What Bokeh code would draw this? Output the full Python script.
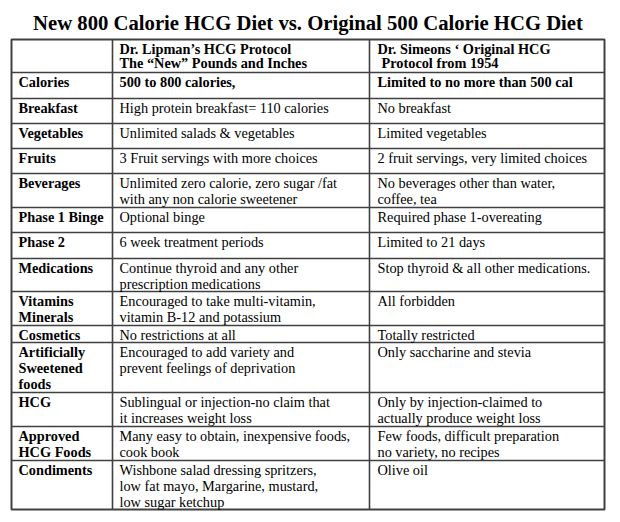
from bokeh.plotting import figure
from bokeh.models import Range1d, ColumnDataSource
from bokeh.core.properties import value
from bokeh.embed import file_html
from bokeh.resources import INLINE

# ---------------- data ----------------
title = "New 800 Calorie HCG Diet vs. Original 500 Calorie HCG Diet"

header_lipman = ["Dr. Lipman\u2019s HCG Protocol", "The \u201cNew\u201d Pounds and Inches"]
header_simeons = ["Dr. Simeons \u2018 Original HCG", "Protocol from 1954"]

row_labels = [
    ["Calories"],
    ["Breakfast"],
    ["Vegetables"],
    ["Fruits"],
    ["Beverages"],
    ["Phase 1 Binge"],
    ["Phase 2"],
    ["Medications"],
    ["Vitamins", "Minerals"],
    ["Cosmetics"],
    ["Artificially", "Sweetened", "foods"],
    ["HCG"],
    ["Approved", "HCG Foods"],
    ["Condiments"],
]

lipman = [
    ["500 to 800 calories,"],
    ["High protein breakfast= 110 calories"],
    ["Unlimited salads & vegetables"],
    ["3 Fruit servings with more choices"],
    ["Unlimited zero calorie, zero sugar /fat", "with any non calorie sweetener"],
    ["Optional binge"],
    ["6 week treatment periods"],
    ["Continue thyroid and any other", "prescription medications"],
    ["Encouraged to take multi-vitamin,", "vitamin B-12 and potassium"],
    ["No restrictions at all"],
    ["Encouraged to add variety and", "prevent feelings of deprivation"],
    ["Sublingual or injection-no claim that", "it increases weight loss"],
    ["Many easy to obtain, inexpensive foods,", "cook book"],
    ["Wishbone salad dressing spritzers,", "low fat mayo, Margarine, mustard,", "low sugar ketchup"],
]

simeons = [
    ["Limited to no more than 500 cal"],
    ["No breakfast"],
    ["Limited vegetables"],
    ["2 fruit servings, very limited choices"],
    ["No beverages other than water,", "coffee, tea"],
    ["Required phase 1-overeating"],
    ["Limited to 21 days"],
    ["Stop thyroid & all other medications."],
    ["All forbidden"],
    ["Totally restricted"],
    ["Only saccharine and stevia"],
    ["Only by injection-claimed to", "actually produce weight loss"],
    ["Few foods, difficult preparation", "no variety, no recipes"],
    ["Olive oil"],
]

bold_rows = [0]  # rows whose body text is bold

# ---------------- layout (pixels) ----------------
W, H = 620, 522
col_edges = [11, 112, 369, 604]
row_edges = [39, 72, 98, 123, 148, 173, 207, 232, 258, 291, 325, 342, 392, 426, 460, 509]
text_pad = [7, 7, 8]
FS_PX = 14.3
TITLE_PX = 20.7
shift = 0.28  # baseline correction, in em
first_base = 13.5 - shift * FS_PX
line_step = 16
FONT = value("Liberation Serif")
FS = f"{FS_PX}px"
LINE_COL = "#404040"

p = figure(width=W, height=H, x_range=Range1d(0, W), y_range=Range1d(H, 0),
           output_backend="svg", toolbar_location=None, min_border=0,
           x_axis_location=None, y_axis_location=None)
p.grid.visible = False
p.outline_line_color = None
p.background_fill_color = "white"
p.border_fill_color = "white"

# title
p.text(x=[(col_edges[0] + col_edges[-1]) / 2], y=[28.5 - shift * TITLE_PX], text=[title],
       text_font=FONT, text_font_size=f"{TITLE_PX}px", text_font_style="bold",
       text_align="center", text_baseline="alphabetic", text_color="#000000")

# grid lines
inner_h = row_edges[1:-1]
p.segment(x0=[col_edges[0]] * len(inner_h), x1=[col_edges[-1]] * len(inner_h),
          y0=inner_h, y1=inner_h, line_color=LINE_COL, line_width=1.6)
inner_v = col_edges[1:-1]
p.segment(x0=inner_v, x1=inner_v, y0=[row_edges[0]] * len(inner_v),
          y1=[row_edges[-1]] * len(inner_v), line_color=LINE_COL, line_width=1.6)
p.quad(left=[col_edges[0]], right=[col_edges[-1]], top=[row_edges[0]], bottom=[row_edges[-1]],
       fill_color=None, line_color=LINE_COL, line_width=2)

# texts
bold = dict(x=[], y=[], text=[])
normal = dict(x=[], y=[], text=[])

def add(store, col, top, lines, base=first_base, step=line_step, extra=0):
    for k, t in enumerate(lines):
        store["x"].append(col_edges[col] + text_pad[col] + extra)
        store["y"].append(top + base + step * k)
        store["text"].append(t)

# header
add(bold, 1, row_edges[0], header_lipman, step=14.5)
add(bold, 2, row_edges[0], header_simeons[:1], step=14.5)
add(bold, 2, row_edges[0] + 14.5, header_simeons[1:], step=14.5, extra=4)

for i in range(len(row_labels)):
    top = row_edges[i + 1]
    add(bold, 0, top, row_labels[i])
    store = bold if i in bold_rows else normal
    add(store, 1, top, lipman[i])
    add(store, 2, top, simeons[i])

p.text(x="x", y="y", text="text", source=ColumnDataSource(bold),
       text_font=FONT, text_font_size=FS, text_font_style="bold",
       text_baseline="alphabetic", text_align="left", text_color="#000000")
p.text(x="x", y="y", text="text", source=ColumnDataSource(normal),
       text_font=FONT, text_font_size=FS, text_font_style="normal",
       text_baseline="alphabetic", text_align="left", text_color="#000000")

open("out.html", "w").write(file_html(p, INLINE))
